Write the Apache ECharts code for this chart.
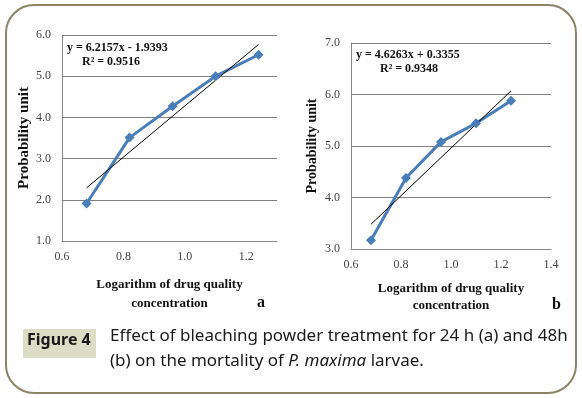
<!DOCTYPE html>
<html>
<head>
<meta charset="utf-8">
<script src="https://cdn.jsdelivr.net/npm/echarts@6/dist/echarts.min.js"></script>
<style>
  html, body { margin: 0; padding: 0; background: #fff; }
  #chart { width: 582px; height: 398px; }
</style>
</head>
<body>
<div id="chart"></div>
<script>
// log of concentration (x) and probit values
const xLog = [0.68, 0.82, 0.96, 1.1, 1.24];
const probitA = [1.91, 3.51, 4.27, 5.0, 5.52];   // 24 h
const probitB = [3.17, 4.38, 5.08, 5.44, 5.88];  // 48 h
// linear trend line end points
const trendX = [0.68, 1.24];
const trendA = [2.29, 5.77];
const trendB = [3.48, 6.07];
const eqA = ["y = 6.2157x - 1.9393", "R\u00b2 = 0.9516"];
const eqB = ["y = 4.6263x + 0.3355", "R\u00b2 = 0.9348"];
const captionLines = [
  "Effect of bleaching powder treatment for 24 h (a) and 48h",
  "(b) on the mortality of "
];

const serif = "Liberation Serif";
const blue = "#4a7ebb";

function pairs(xs, ys) {
  return xs.map((x, i) => [x, ys[i]]);
}

function xAxisCfg(gridIndex, max, gap, lh) {
  return {
    type: "value",
    gridIndex: gridIndex,
    min: 0.6,
    max: max,
    interval: 0.2,
    name: "Logarithm of drug quality\nconcentration",
    nameLocation: "middle",
    nameGap: gap,
    nameTextStyle: { fontFamily: serif, fontWeight: "bold", fontSize: 13, color: "#111", lineHeight: lh },
    axisLine: { show: true, onZero: false, lineStyle: { color: "#868686", width: 1 } },
    axisTick: { show: false },
    splitLine: { show: false },
    axisLabel: {
      fontFamily: serif, fontSize: 12, color: "#444", margin: 10,
      showMaxLabel: max < 1.4 ? false : true,
      formatter: v => v.toFixed(1)
    }
  };
}

function yAxisCfg(gridIndex, min, max, gap, fs) {
  return {
    type: "value",
    gridIndex: gridIndex,
    min: min,
    max: max,
    interval: 1,
    name: "Probability unit",
    nameLocation: "middle",
    nameGap: gap,
    nameTextStyle: { fontFamily: serif, fontWeight: "bold", fontSize: fs, color: "#111" },
    axisLine: { show: true, lineStyle: { color: "#868686", width: 1 } },
    axisTick: { show: false },
    splitLine: { show: true, lineStyle: { color: "#808080", width: 1 } },
    axisLabel: { fontFamily: serif, fontSize: 12, color: "#444", margin: 11, formatter: v => v.toFixed(1) }
  };
}

function eqText(x, y, str) {
  return {
    type: "text", left: x, top: y,
    style: { text: str, font: "bold 12px '" + serif + "'", fill: "#111" }
  };
}

const chart = echarts.init(document.getElementById("chart"));
chart.setOption({
  animation: false,
  backgroundColor: "#fff",
  grid: [
    { left: 62, top: 35, width: 215, height: 206 },
    { left: 351, top: 43, width: 200, height: 206 }
  ],
  xAxis: [xAxisCfg(0, 1.3, 34, 19), xAxisCfg(1, 1.4, 31, 17)],
  yAxis: [yAxisCfg(0, 1, 6, 28, 15), yAxisCfg(1, 3, 7, 32, 14)],
  series: [
    {
      type: "line", xAxisIndex: 0, yAxisIndex: 0,
      data: pairs(xLog, probitA),
      symbol: "diamond", symbolSize: 10,
      lineStyle: { color: blue, width: 3 },
      itemStyle: { color: blue }
    },
    {
      type: "line", xAxisIndex: 0, yAxisIndex: 0,
      data: pairs(trendX, trendA),
      symbol: "none",
      lineStyle: { color: "#000", width: 1 }
    },
    {
      type: "line", xAxisIndex: 1, yAxisIndex: 1,
      data: pairs(xLog, probitB),
      symbol: "diamond", symbolSize: 10,
      lineStyle: { color: blue, width: 3 },
      itemStyle: { color: blue }
    },
    {
      type: "line", xAxisIndex: 1, yAxisIndex: 1,
      data: pairs(trendX, trendB),
      symbol: "none",
      lineStyle: { color: "#000", width: 1 }
    }
  ],
  graphic: [
    {
      type: "rect", z: 0,
      shape: { x: 6, y: 5, width: 570, height: 388, r: 28 },
      style: { fill: null, stroke: "#8c8466", lineWidth: 2 }
    },
    eqText(67, 42, eqA[0]),
    eqText(82, 56, eqA[1]),
    eqText(356, 49, eqB[0]),
    eqText(380, 63, eqB[1]),
    {
      type: "text", left: 257, top: 295,
      style: { text: "a", font: "bold 16px '" + serif + "'", fill: "#111" }
    },
    {
      type: "text", left: 552, top: 297,
      style: { text: "b", font: "bold 16px '" + serif + "'", fill: "#111" }
    },
    {
      type: "rect",
      shape: { x: 23, y: 329, width: 73, height: 29 },
      style: { fill: "#dddcc6" }
    },
    {
      type: "text", left: 27, top: 332,
      style: { text: "Figure 4", font: "bold 16px 'Noto Sans'", fill: "#1a1a1a" }
    },
    {
      type: "text", left: 110, top: 328,
      style: { text: captionLines[0], font: "17px 'Noto Sans'", fill: "#1a1a1a" }
    },
    {
      type: "text", left: 110, top: 353,
      style: {
        rich: {
          n: { font: "17px 'Noto Sans'", fill: "#1a1a1a" },
          i: { font: "italic 17px 'Noto Sans'", fill: "#1a1a1a" }
        },
        text: "{n|" + captionLines[1] + "}{i|P. maxima}{n| larvae.}"
      }
    }
  ]
});
</script>
</body>
</html>
